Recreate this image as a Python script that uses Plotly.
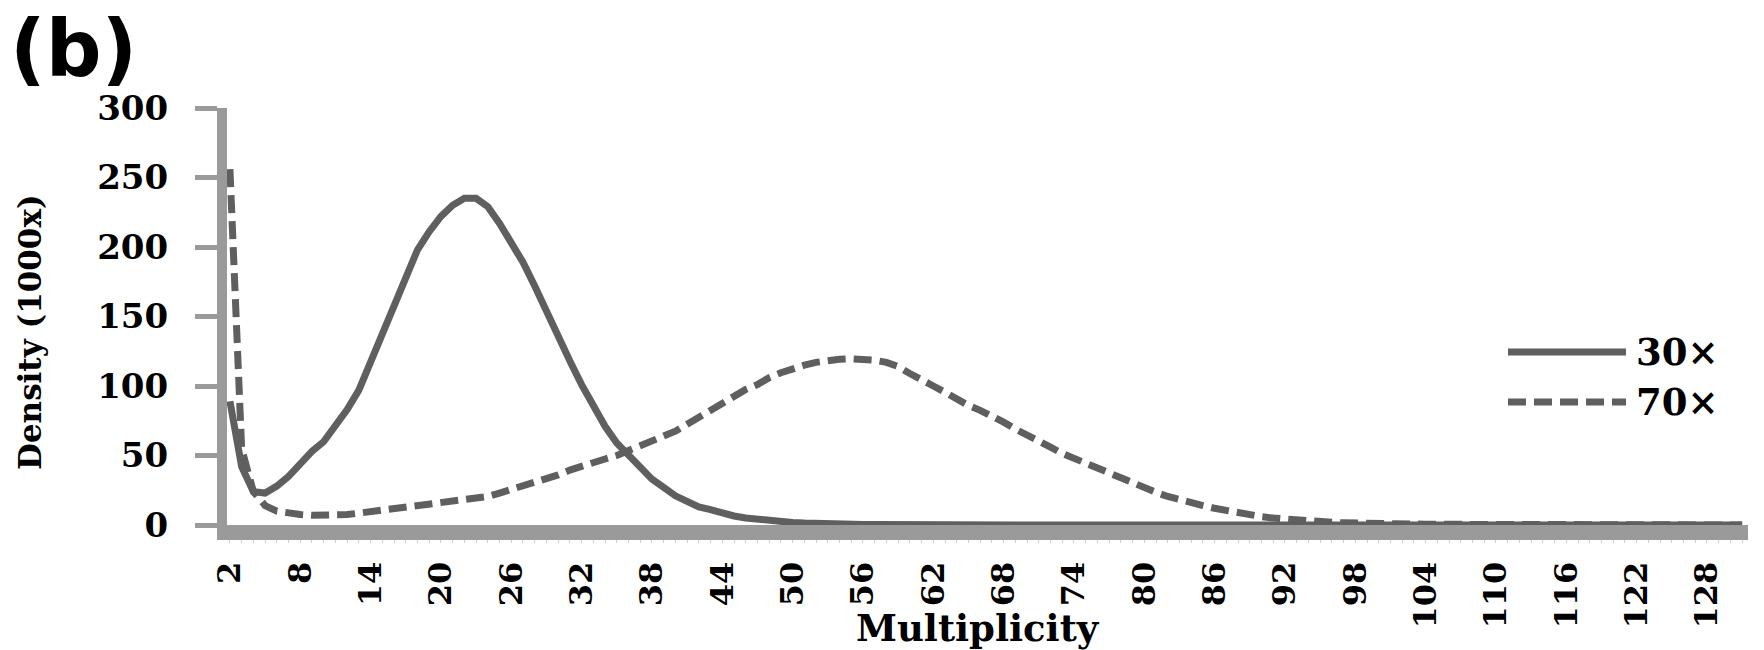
import plotly.graph_objects as go

# Multiplicity categories (2 .. 131)
multiplicity = list(range(2, 132))

density_30x = [
    89, 42, 24, 23, 28, 35, 44, 53, 60, 71,
    83, 97, 117, 137, 158, 180, 198, 211, 222, 230,
    235, 235, 229, 217, 204, 189, 172, 153, 135, 118,
    101, 86, 71, 59, 50, 41, 33, 27, 21, 17,
    13, 11, 8.5, 6.5, 5, 4, 3, 2.4, 1.8, 1.4,
    1.0, 0.8, 0.6, 0.5, 0.4, 0.3, 0.2, 0.15, 0.1, 0.05,
    0, 0, 0, 0, 0, 0, 0, 0, 0, 0,
    0, 0, 0, 0, 0, 0, 0, 0, 0, 0,
    0, 0, 0, 0, 0, 0, 0, 0, 0, 0,
    0, 0, 0, 0, 0, 0, 0, 0, 0, 0,
    0, 0, 0, 0, 0, 0, 0, 0, 0, 0,
    0, 0, 0, 0, 0, 0, 0, 0, 0, 0,
    0, 0, 0, 0, 0, 0, 0, 0, 0, 0,
]

density_70x = [
    256, 55, 24, 14, 10, 8.5, 7.5, 7, 6.8, 7,
    7.5, 8.5, 9.5, 10.5, 11.5, 12.5, 13.5, 14.5, 15.5, 16.5,
    17.5, 18.5, 20.5, 23, 25.5, 28, 30.5, 33, 36, 39.5,
    42.5, 45, 47.5, 50, 53.5, 56.5, 60, 63, 67.5, 72.5,
    77.5, 82.5, 88, 93, 97.5, 101, 106, 109.5, 112.5, 115,
    117, 118.5, 119.2, 119.5, 119.2, 118.5, 117, 114, 109, 104,
    100, 95.5, 90.5, 86, 82.5, 78.5, 74, 69, 65, 60.5,
    56, 51.5, 48, 44, 40.5, 37, 33, 29.5, 26.5, 23.5,
    20.5, 18, 16, 14, 12, 10.3, 8.7, 7.3, 6, 5,
    4.2, 3.4, 2.8, 2.3, 1.9, 1.6, 1.3, 1.1, 0.9, 0.8,
    0.7, 0.6, 0.55, 0.5, 0.45, 0.4, 0.38, 0.35, 0.33, 0.3,
    0.25, 0.2, 0.15, 0.1, 0.05, 0, 0, 0, 0, 0,
    0, 0, 0, 0, 0, 0, 0, 0, 0, 0,
]

x_tick_labels = [2, 8, 14, 20, 26, 32, 38, 44, 50, 56, 62, 68, 74, 80,
                 86, 92, 98, 104, 110, 116, 122, 128]
y_tick_labels = [0, 50, 100, 150, 200, 250, 300]
series_names = ["30\u00d7", "70\u00d7"]

LINE = "#5f5f5f"
AXIS = "#9a9a9a"
SERIF = "DejaVu Serif"

fig = go.Figure()
fig.add_trace(go.Scatter(x=multiplicity, y=density_30x, mode="lines",
                         name=series_names[0],
                         line=dict(color=LINE, width=7)))
fig.add_trace(go.Scatter(x=multiplicity, y=density_70x, mode="lines",
                         name=series_names[1],
                         line=dict(color=LINE, width=7, dash="18px,8px")))

L, R, T, B = 227, 16, 108, 125
W = 1764 - L - R
H = 650 - T - B

fig.update_layout(
    width=1764, height=650,
    margin=dict(l=L, r=R, t=T, b=B, pad=0),
    paper_bgcolor="white", plot_bgcolor="white",
    showlegend=False,
    xaxis=dict(
        range=[1.75, 131.5], showgrid=False, zeroline=False,
        showline=True, linewidth=15, linecolor=AXIS,
        tickmode="array", tickvals=x_tick_labels,
        ticktext=[str(v) for v in x_tick_labels],
        ticks="outside", ticklen=3, tickwidth=1, tickcolor="#d0d0d0",
        minor=dict(dtick=1, tick0=2, ticks="outside", ticklen=3,
                   tickwidth=1, tickcolor="#d0d0d0"),
        tickangle=-90, ticklabelstandoff=6,
        tickfont=dict(family=SERIF, size=32, color="black", weight="bold"),
        layer="below traces", fixedrange=True,
    ),
    yaxis=dict(
        range=[0, 300], showgrid=False, zeroline=False,
        showline=True, linewidth=10, linecolor=AXIS,
        tickmode="array", tickvals=y_tick_labels,
        ticks="outside", ticklen=22, tickwidth=5, tickcolor=AXIS,
        ticklabelstandoff=20,
        tickfont=dict(family=SERIF, size=34, color="black", weight="bold"),
        layer="below traces", fixedrange=True,
    ),
)

def px_x(px):
    return (px - L) / W

def px_y(py):
    return (650 - B - py) / H

annotations = [
    dict(text="(b)", x=px_x(8), y=px_y(2), xanchor="left", yanchor="top",
         font=dict(family="DejaVu Sans", size=78, color="black", weight="bold")),
    dict(text="Multiplicity", x=px_x(978), y=px_y(628), xanchor="center",
         yanchor="middle",
         font=dict(family=SERIF, size=37, color="black", weight="bold")),
    dict(text="Density (1000x)", x=px_x(30), y=px_y(332), xanchor="center",
         yanchor="middle", textangle=-90,
         font=dict(family=SERIF, size=31, color="black", weight="bold")),
    dict(text=series_names[0], x=px_x(1634), y=px_y(352), xanchor="left",
         yanchor="middle",
         font=dict(family=SERIF, size=37, color="black", weight="bold")),
    dict(text=series_names[1], x=px_x(1634), y=px_y(402), xanchor="left",
         yanchor="middle",
         font=dict(family=SERIF, size=37, color="black", weight="bold")),
]
for a in annotations:
    a.update(xref="paper", yref="paper", showarrow=False)
fig.update_layout(annotations=annotations)

fig.add_shape(type="line", xref="paper", yref="paper",
              x0=px_x(1508), x1=px_x(1626), y0=px_y(352), y1=px_y(352),
              line=dict(color=LINE, width=7))
fig.add_shape(type="line", xref="paper", yref="paper",
              x0=px_x(1508), x1=px_x(1626), y0=px_y(402), y1=px_y(402),
              line=dict(color=LINE, width=7, dash="18px,8px"))

fig.write_html("out.html",
               config={"displayModeBar": False},
               post_script="document.body.style.margin='0';")
